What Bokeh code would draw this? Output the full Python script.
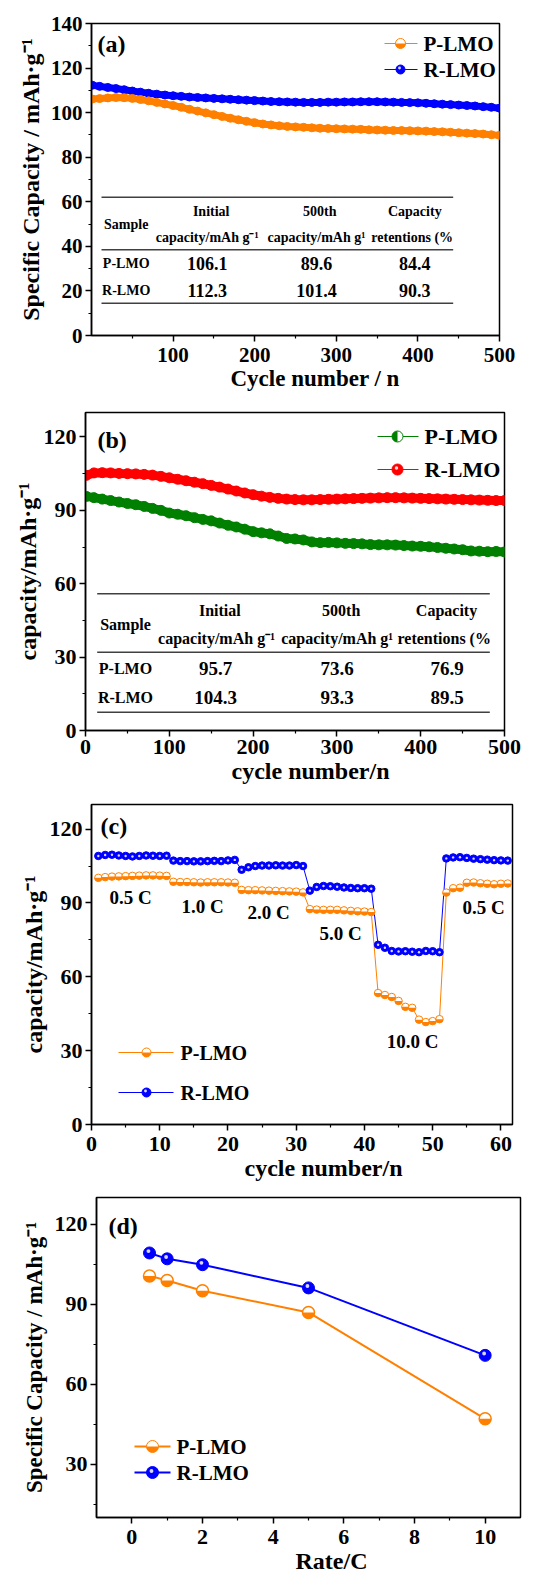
from math import pi
from bokeh.plotting import figure
from bokeh.layouts import column
from bokeh.models import Label, FixedTicker, Range1d, ColumnDataSource, Title
from bokeh.transform import dodge
from bokeh.embed import file_html
from bokeh.resources import INLINE

FONT = "Liberation Serif"
ORANGE = "#ff8000"
BLUE = "#0000ff"
GREEN = "#008000"
RED = "#ff0000"

# ---------------- data ----------------
# (a) cycling, read every 10 cycles
cycles_ab = [1] + list(range(10, 501, 10))
a_p_lmo = [106.1, 106.3, 106.6, 106.8, 106.7, 106.4, 105.9, 105.3, 104.6, 103.9,
           103.2, 102.4, 101.5, 100.7, 99.9, 99.1, 98.3, 97.5, 96.8, 96.1,
           95.5, 94.9, 94.5, 94.1, 93.8, 93.6, 93.4, 93.2, 93.0, 92.9,
           92.8, 92.7, 92.6, 92.5, 92.3, 92.2, 92.1, 92.0, 92.0, 91.9,
           91.8, 91.7, 91.5, 91.4, 91.2, 91.0, 90.8, 90.6, 90.4, 90.1, 89.8]
a_r_lmo = [112.3, 111.8, 111.3, 110.8, 110.3, 109.7, 109.2, 108.7, 108.3, 107.9,
           107.6, 107.3, 107.0, 106.8, 106.6, 106.4, 106.2, 106.0, 105.8, 105.6,
           105.4, 105.2, 105.0, 104.9, 104.8, 104.7, 104.6, 104.6, 104.6, 104.7,
           104.7, 104.8, 104.8, 104.9, 104.9, 104.9, 104.8, 104.7, 104.6, 104.5,
           104.4, 104.2, 104.0, 103.8, 103.6, 103.4, 103.2, 103.0, 102.7, 102.4, 102.0]
# (b) cycling, read every 10 cycles
b_p_lmo = [95.7, 95.2, 94.6, 94.0, 93.4, 92.8, 92.3, 91.6, 90.8, 90.0,
           88.9, 88.4, 87.8, 87.0, 86.3, 85.7, 84.8, 83.9, 83.2, 82.3,
           81.3, 80.8, 80.4, 79.5, 78.5, 78.3, 77.9, 77.1, 76.8, 76.9,
           76.7, 76.5, 76.4, 76.3, 76.0, 75.9, 75.9, 75.8, 75.6, 75.4,
           75.3, 75.1, 74.8, 74.5, 74.2, 73.9, 73.4, 73.3, 73.1, 73.2, 73.0]
b_r_lmo = [104.3, 105.3, 105.4, 105.3, 105.1, 105.0, 104.9, 104.7, 104.4, 103.9,
           103.3, 102.7, 102.1, 101.5, 100.9, 100.2, 99.5, 98.7, 97.9, 97.1,
           96.4, 95.8, 95.3, 94.9, 94.6, 94.4, 94.3, 94.3, 94.4, 94.5,
           94.6, 94.7, 94.8, 94.9, 95.0, 95.1, 95.2, 95.2, 95.1, 95.0,
           94.9, 94.8, 94.7, 94.6, 94.5, 94.4, 94.3, 94.2, 94.1, 94.0, 94.0]

table_header_1 = ["Initial", "500th", "Capacity"]
table_header_2 = ["capacity/mAh g\u207b\u00b9", "capacity/mAh g\u00b9", "retentions (%"]
table_samples = ["P-LMO", "R-LMO"]
a_table = [["106.1", "89.6", "84.4"], ["112.3", "101.4", "90.3"]]
b_table = [["95.7", "73.6", "76.9"], ["104.3", "93.3", "89.5"]]

# (c) rate test
c_cycles = list(range(1, 62))
c_p_lmo = [100.2, 100.5, 100.7, 100.8, 100.9, 101.0, 101.1, 101.2, 101.2, 101.1, 101.0,
           98.6, 98.5, 98.5, 98.4, 98.3, 98.4, 98.4, 98.4, 98.3, 98.2,
           95.3, 95.2, 95.2, 95.1, 95.0, 94.9, 94.8, 94.7, 94.6, 94.3,
           87.5, 87.3, 87.2, 87.2, 87.2, 87.0, 86.8, 86.6, 86.5, 86.3,
           53.4, 52.6, 51.8, 50.2, 47.8, 47.4, 42.6, 41.6, 42.0, 42.8,
           94.2, 96.0, 96.2, 98.2, 98.3, 98.0, 97.8, 97.6, 97.8, 97.9]
c_r_lmo = [109.1, 109.5, 109.6, 109.3, 109.1, 108.9, 109.1, 109.3, 109.2, 109.1, 109.2,
           107.2, 107.0, 107.0, 106.9, 106.9, 107.0, 107.1, 107.0, 107.3, 107.5,
           103.5, 104.5, 105.0, 105.2, 105.2, 105.3, 105.2, 105.2, 105.4, 105.0,
           95.0, 96.5, 96.9, 96.8, 96.6, 96.3, 96.1, 96.0, 96.0, 95.8,
           73.0, 71.8, 70.5, 70.3, 70.4, 70.2, 70.0, 70.5, 70.4, 70.0,
           108.1, 108.5, 108.6, 108.3, 108.0, 107.8, 107.6, 107.4, 107.3, 107.2]
c_rate_labels = ["0.5 C", "1.0 C", "2.0 C", "5.0 C", "10.0 C", "0.5 C"]

# (d) capacity vs rate
d_rates = [0.5, 1, 2, 5, 10]
d_p_lmo = [100.6, 98.9, 95.0, 86.9, 47.0]
d_r_lmo = [109.2, 107.0, 104.8, 96.1, 70.8]

series_names = ["P-LMO", "R-LMO"]

# ---------------- layout (page pixels) ----------------
A = dict(off=0, h=395, l=91, t=23, r=499, b=335, xr=(0, 500), yr=(0, 140))
B = dict(off=395, h=395, l=85, t=412, r=504, b=730, xr=(0, 500), yr=(0, 130))
C = dict(off=790, h=396, l=91, t=804, r=512, b=1124, xr=(0, 61.7), yr=(0, 130))
D = dict(off=1186, h=392, l=96, t=1197, r=520, b=1517, xr=(-1, 11), yr=(10, 130))


def setup(P, xt, xmt, yt, ymt, tick_fs, x_standoff):
    p = figure(width=539, height=P["h"], x_range=Range1d(*P["xr"]), y_range=Range1d(*P["yr"]),
               output_backend="svg", toolbar_location=None,
               min_border_left=P["l"], min_border_right=539 - P["r"],
               min_border_top=P["t"] - P["off"], min_border_bottom=P["off"] + P["h"] - P["b"])
    try:
        p.frame_align = False
    except Exception:
        pass
    p.title.visible = False
    p.grid.visible = False
    p.outline_line_color = "black"
    p.outline_line_width = 1.5
    p.outline_line_alpha = 1
    p.background_fill_color = "white"
    p.border_fill_color = "white"
    p.xaxis.ticker = FixedTicker(ticks=xt, minor_ticks=xmt)
    p.yaxis.ticker = FixedTicker(ticks=yt, minor_ticks=ymt)
    for ax in (p.xaxis[0], p.yaxis[0]):
        ax.axis_line_width = 1.5
        ax.axis_line_color = "black"
        ax.major_tick_out = 6
        ax.major_tick_in = 0
        ax.minor_tick_out = 3
        ax.minor_tick_in = 0
        ax.major_tick_line_width = 1.5
        ax.minor_tick_line_width = 1.2
        ax.major_tick_line_color = "black"
        ax.minor_tick_line_color = "black"
        ax.major_label_text_font = FONT
        ax.major_label_text_font_style = "bold"
        ax.major_label_text_font_size = f"{tick_fs}px"
        ax.major_label_text_color = "black"
        ax.major_label_standoff = 3
        ax.axis_label_text_font = FONT
        ax.axis_label_text_font_style = "bold"
        ax.axis_label_text_color = "black"
    p.xaxis[0].major_label_standoff = x_standoff
    return p


def lab(p, P, text, px, py, fs, align="center", baseline="middle", angle=0, color="black"):
    p.add_layout(Label(x=px - P["l"], y=P["b"] - py, x_units="screen", y_units="screen",
                       text=text, text_font=FONT, text_font_style="bold",
                       text_font_size=f"{fs}px", text_align=align, text_baseline=baseline,
                       angle=angle, text_color=color))


def to_data(P, px, py):
    x0, x1 = P["xr"]
    y0, y1 = P["yr"]
    x = x0 + (px - P["l"]) / (P["r"] - P["l"]) * (x1 - x0)
    y = y0 + (P["b"] - py) / (P["b"] - P["t"]) * (y1 - y0)
    return x, y


def ylab(p, text, fs, standoff):
    ax = p.yaxis[0]
    ax.axis_label = text
    ax.axis_label_text_font_size = f"{fs}px"
    ax.axis_label_standoff = standoff


def xlab(p, P, text, left_px, fs, standoff):
    p.add_layout(Title(text=text, align="left", offset=left_px - P["l"], vertical_align="top",
                       standoff=standoff, text_font=FONT, text_font_style="bold",
                       text_font_size=f"{fs}px", text_color="black"), "below")


def markers(p, src, xf, yf, color, kind, d, lw=1.0, hx=0.0, hy=0.0):
    if kind == "half":
        p.scatter(xf, yf, source=src, size=d, fill_color="white", line_color=color, line_width=lw)
        p.wedge(xf, yf, source=src, radius=d / 2, radius_units="screen",
                start_angle=pi, end_angle=2 * pi, fill_color=color, line_color=None)
    elif kind == "halfleft":
        p.scatter(xf, yf, source=src, size=d, fill_color="white", line_color=color, line_width=lw)
        p.wedge(xf, yf, source=src, radius=d / 2, radius_units="screen",
                start_angle=pi / 2, end_angle=3 * pi / 2, fill_color=color, line_color=None)
    else:
        p.scatter(xf, yf, source=src, size=d, fill_color=color, line_color=color, line_width=lw)
        p.scatter(x=dodge(xf, hx, range=p.x_range), y=dodge(yf, hy, range=p.y_range), source=src,
                  size=max(2.0, d * 0.32), fill_color="white", fill_alpha=0.85, line_color=None)


def legend_row(p, P, py, x0, x1, xm, xt, color, kind, d, text, fs, lw=1.0):
    X0, Y = to_data(P, x0, py)
    X1, _ = to_data(P, x1, py)
    XM, _ = to_data(P, xm, py)
    p.line([X0, X1], [Y, Y], line_color=color, line_width=lw)
    hx, hy = to_data(P, xm - 1, py - 1.5)
    src = ColumnDataSource(dict(x=[XM], y=[Y]))
    markers(p, src, "x", "y", color, kind, d, hx=hx - XM, hy=hy - Y)
    lab(p, P, text, xt, py, fs, align="left")


def table(p, P, lines_y, lx0, lx1, col_x_h1, col_x_h2, col_x_v, sample_x,
          y_h1, y_sample, y_h2, y_rows, vals, fs_h, fs_v):
    for ly in lines_y:
        X0, Y = to_data(P, lx0, ly)
        X1, _ = to_data(P, lx1, ly)
        p.line([X0, X1], [Y, Y], line_color="#404040", line_width=1.5)
    lab(p, P, "Sample", sample_x, y_sample, fs_h)
    for i in range(3):
        lab(p, P, table_header_1[i], col_x_h1[i], y_h1, fs_h)
        lab(p, P, table_header_2[i], col_x_h2[i], y_h2, fs_h)
    for r in range(2):
        lab(p, P, table_samples[r], sample_x, y_rows[r], fs_h)
        for i in range(3):
            lab(p, P, vals[r][i], col_x_v[i], y_rows[r], fs_v)


# ---------------- panel (a) ----------------
pa = setup(A, [100, 200, 300, 400, 500], [50, 150, 250, 350, 450],
           list(range(0, 141, 20)), list(range(10, 140, 20)), 21, 6)
src_a = ColumnDataSource(dict(x=cycles_ab, p=a_p_lmo, r=a_r_lmo))
pa.line("x", "r", source=src_a, line_color=BLUE, line_width=7)
pa.scatter("x", "r", source=src_a, size=8, fill_color=BLUE, line_color=BLUE)
pa.line("x", "p", source=src_a, line_color=ORANGE, line_width=7)
pa.scatter("x", "p", source=src_a, size=8, fill_color=ORANGE, line_color=ORANGE)
legend_row(pa, A, 43, 384, 417, 400, 423, ORANGE, "half", 10, series_names[0], 21)
legend_row(pa, A, 69, 384, 417, 400, 423, BLUE, "ball", 9, series_names[1], 21)
table(pa, A, [196.7, 249.3, 302.7], 101, 452.7,
      [210.7, 319.3, 414.3], [206.7, 316, 411.7], [206.7, 316, 414.3], 125.7,
      211, 224, 236.7, [263.3, 290], a_table, 14, 18)
lab(pa, A, "(a)", 97, 43, 24, align="left")
ylab(pa, "Specific Capacity / mAh\u00b7g\u207b\u00b9", 24, 4)
xlab(pa, A, "Cycle number / n", 230, 23, 2)

# ---------------- panel (b) ----------------
pb = setup(B, [0, 100, 200, 300, 400, 500], [50, 150, 250, 350, 450],
           [0, 30, 60, 90, 120], [15, 45, 75, 105], 22, 3)
src_b = ColumnDataSource(dict(x=cycles_ab, p=b_p_lmo, r=b_r_lmo))
pb.line("x", "r", source=src_b, line_color=RED, line_width=9)
pb.scatter("x", "r", source=src_b, size=10, fill_color=RED, line_color=RED)
pb.line("x", "p", source=src_b, line_color=GREEN, line_width=9)
pb.scatter("x", "p", source=src_b, size=10, fill_color=GREEN, line_color=GREEN)
legend_row(pb, B, 436, 377, 418, 397, 424, GREEN, "halfleft", 11, series_names[0], 22)
legend_row(pb, B, 469, 377, 418, 397, 424, RED, "ball", 11, series_names[1], 22)
table(pb, B, [593.3, 651.7, 711.7], 96.7, 489.3,
      [219.3, 340.7, 446], [216, 336.7, 443.7], [215, 336.7, 446.7], 125,
      610, 624, 638.3, [667.7, 696.7], b_table, 16, 19)
lab(pb, B, "(b)", 97, 439, 24, align="left")
ylab(pb, "capacity/mAh\u00b7g\u207b\u00b9", 24, 0)
xlab(pb, B, "cycle number/n", 231, 24, 2)

# ---------------- panel (c) ----------------
pc = setup(C, [0, 10, 20, 30, 40, 50, 60], [5, 15, 25, 35, 45, 55],
           [0, 30, 60, 90, 120], [15, 45, 75, 105], 22, 6)
src_c = ColumnDataSource(dict(x=c_cycles, p=c_p_lmo, r=c_r_lmo))
pc.line("x", "p", source=src_c, line_color=ORANGE, line_width=1)
pc.line("x", "r", source=src_c, line_color=BLUE, line_width=1)
markers(pc, src_c, "x", "p", ORANGE, "half", 7.5, lw=1.0)
markers(pc, src_c, "x", "r", BLUE, "ball", 7.5, lw=1.0)
for txt, (lx, ly) in zip(c_rate_labels, [(130, 897), (202, 906), (268, 912),
                                          (340, 933), (412, 1041), (483, 907)]):
    lab(pc, C, txt, lx, ly, 19)
legend_row(pc, C, 1052, 118, 173, 146, 180, ORANGE, "half", 9, series_names[0], 20)
legend_row(pc, C, 1092, 118, 173, 146, 180, BLUE, "ball", 9, series_names[1], 20)
lab(pc, C, "(c)", 100, 825, 24, align="left")
ylab(pc, "capacity/mAh\u00b7g\u207b\u00b9", 24, 0)
xlab(pc, C, "cycle number/n", 244, 24, 3)

# ---------------- panel (d) ----------------
pd_ = setup(D, [0, 2, 4, 6, 8, 10], [1, 3, 5, 7, 9],
            [30, 60, 90, 120], [15, 45, 75, 105], 22, 6)
src_d = ColumnDataSource(dict(x=d_rates, p=d_p_lmo, r=d_r_lmo))
pd_.line("x", "p", source=src_d, line_color=ORANGE, line_width=2)
pd_.line("x", "r", source=src_d, line_color=BLUE, line_width=2)
markers(pd_, src_d, "x", "p", ORANGE, "half", 12, lw=1.5)
markers(pd_, src_d, "x", "r", BLUE, "ball", 12, lw=1.0, hx=-0.03, hy=0.7)
legend_row(pd_, D, 1446, 134, 170, 152, 176, ORANGE, "half", 12, series_names[0], 21, lw=2)
legend_row(pd_, D, 1472, 134, 170, 152, 176, BLUE, "ball", 12, series_names[1], 21, lw=2)
lab(pd_, D, "(d)", 108, 1225, 24, align="left")
ylab(pd_, "Specific Capacity / mAh\u00b7g\u207b\u00b9", 23, 5)
xlab(pd_, D, "Rate/C", 295, 24, 2)

layout = column(pa, pb, pc, pd_, spacing=0)
open("out.html", "w").write(file_html(layout, INLINE))
